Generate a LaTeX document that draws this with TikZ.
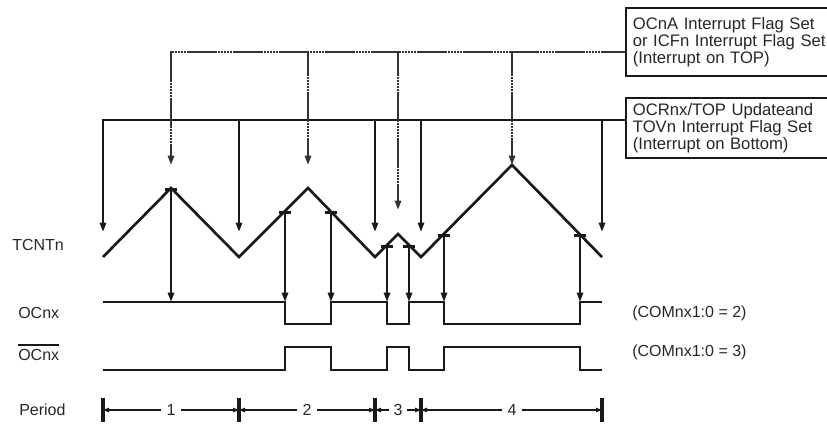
\documentclass[tikz,border=0pt]{standalone}
\usepackage{fontspec}
\setmainfont{Liberation Sans}
\usetikzlibrary{arrows.meta}
\begin{document}
\begin{tikzpicture}[x=0.75pt,y=-0.75pt,
  wire/.style={line width=2pt, line join=miter, black!90},
  dotwire/.style={wire, black!80, dash pattern=on 2pt off 0.3pt},
  arr/.style={-{Triangle[length=7pt,width=4.6pt]}},
  cmp/.style={wire,{Bar[width=8.5pt]}-{Triangle[length=7pt,width=4.6pt]}},
  lbl/.style={font=\fontsize{12}{14}\selectfont, inner sep=0pt, anchor=west, text=black!85},
  box/.style={draw=black!90, line width=1.8pt, anchor=north west, align=left,
    text width=170pt, minimum width=180pt, inner xsep=5pt,
    font=\fontsize{12.5}{12.6}\selectfont, text=black!85},
  pbar/.style={line width=2.5pt, black!90},
  parr/.style={line width=1.3pt, black!90, -{Triangle[length=4.5pt,width=3.2pt]}},
  plabel/.style={font=\fontsize{12}{14}\selectfont, inner sep=4pt, text=black!85}
]
\useasboundingbox (0,0) rectangle (827,428);

% boxes
\node[box, minimum height=51pt] (box1) at (625,7)
  {OCnA Interrupt Flag Set\\or ICFn Interrupt Flag Set\\(Interrupt on TOP)};
\node[box, minimum height=45pt] (box2) at (625,97)
  {OCRnx/TOP Updateand\\TOVn Interrupt Flag Set\\(Interrupt on Bottom)};

% entry points
\coordinate (tin) at (625,52);
\coordinate (bin) at (625,120);

% TOP interrupt tips
\coordinate (ta) at (171,165);
\coordinate (tb) at (308,165);
\coordinate (tc) at (398,210);
\coordinate (td) at (512,165);
% Bottom interrupt tips
\coordinate (ba) at (103,232);
\coordinate (bb) at (239,232);
\coordinate (bc) at (375,232);
\coordinate (bd) at (421,232);
\coordinate (be) at (602,232);

% bottom (solid) line
\draw[wire, arr] (bin) -- (ba |- bin) -- (ba);
\foreach \p in {bb,bc,bd,be} \draw[wire, arr] (\p |- bin) -- (\p);

% top (dotted) line
\draw[dotwire, arr] (tin) -- (ta |- tin) -- (ta);
\foreach \p in {tb,tc,td} \draw[dotwire, arr] (\p |- tin) -- (\p);

% TCNTn waveform
\draw[wire] (103,257) -- (171,188) -- (239,257) -- (308,188) -- (375,257)
  -- (398,234) -- (421,257) -- (512,165) -- (602,257);

% compare match points
\coordinate (c1) at (171,188);
\coordinate (c2) at (285,211);
\coordinate (c3) at (331,211);
\coordinate (c4) at (387,245);
\coordinate (c5) at (409,245);
\coordinate (c6) at (444,234);
\coordinate (c7) at (580,234);
\foreach \c in {c1,c2,c3,c4,c5,c6,c7}
  \draw[cmp] (\c) -- (\c |- 0,302);

% OCnx
\draw[wire] (103,302) -- (285,302) -- (285,324) -- (331,324) -- (331,302)
  -- (387,302) -- (387,324) -- (409,324) -- (409,302) -- (444,302)
  -- (444,324) -- (580,324) -- (580,302) -- (602,302);

% OCnx bar
\draw[wire] (103,370) -- (285,370) -- (285,347) -- (331,347) -- (331,370)
  -- (387,370) -- (387,347) -- (409,347) -- (409,370) -- (444,370)
  -- (444,347) -- (580,347) -- (580,370) -- (602,370);

% labels
\node[lbl] (lt) at (12,245) {TCNTn};
\node[lbl] (lo) at (18,313) {OCnx};
\node[lbl] (lob) at (18,355) {OCnx};
\draw[line width=1.6pt, black!90] ([yshift=3.2pt]lob.north west) -- ([yshift=3.2pt]lob.north east);
\node[lbl] (lp) at (19,410) {Period};
\node[lbl] (m2) at (632,313) {(COMnx1:0 = 2)};
\node[lbl] (m3) at (632,352) {(COMnx1:0 = 3)};

% period
\coordinate (q0) at (103,410);
\coordinate (q1) at (239,410);
\coordinate (q2) at (375,410);
\coordinate (q3) at (421,410);
\coordinate (q4) at (602,410);
\foreach \q in {q0,q1,q2,q3,q4}
  \draw[pbar] ([yshift=9pt]\q) -- ([yshift=-9pt]\q);
\node[plabel] (p1) at (171,410) {1};
\node[plabel] (p2) at (307,410) {2};
\node[plabel, inner sep=3pt] (p3) at (398,410) {3};
\node[plabel] (p4) at (512,410) {4};
\draw[parr] (p1) -- (q0); \draw[parr] (p1) -- (q1);
\draw[parr] (p2) -- (q1); \draw[parr] (p2) -- (q2);
\draw[parr] (p3) -- (q2); \draw[parr] (p3) -- (q3);
\draw[parr] (p4) -- (q3); \draw[parr] (p4) -- (q4);
\end{tikzpicture}
\end{document}
